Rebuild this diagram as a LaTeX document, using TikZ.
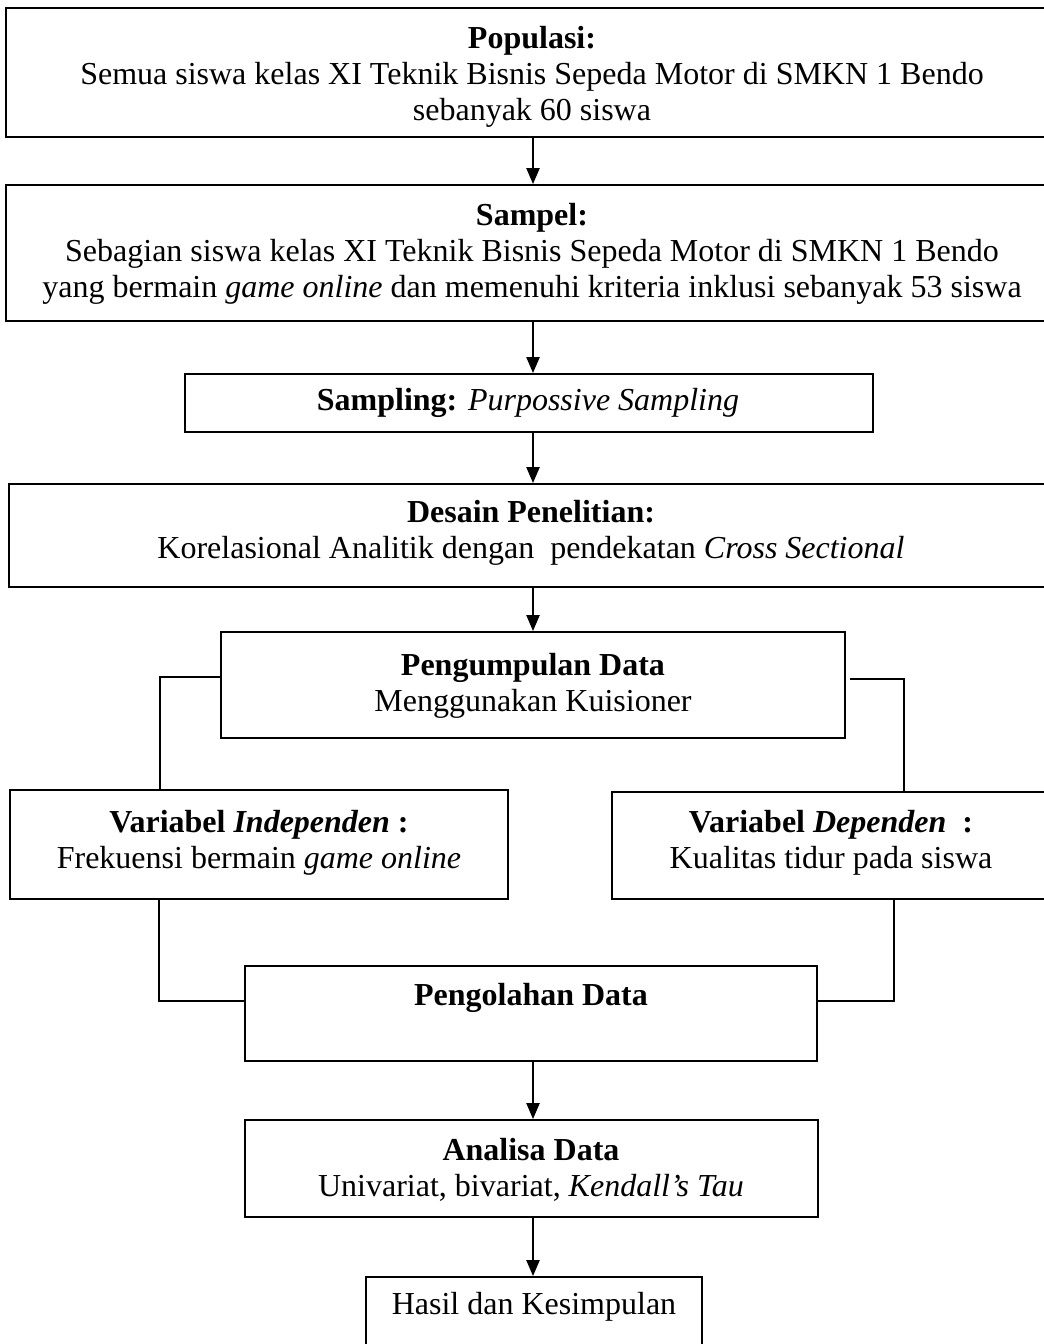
\documentclass[tikz,border=0pt]{standalone}
\usepackage{fontspec}
\setmainfont{Liberation Serif}
\usetikzlibrary{fit,arrows.meta}
\tikzset{
  box/.style={draw=black, line width=1.8pt, inner sep=0pt, fill=none},
  txt/.style={font=\fontsize{32}{36}\selectfont, align=center, inner sep=0pt},
  conn/.style={draw=black, line width=2.2pt},
  arr/.style={conn, -{Triangle[length=16pt,width=13pt]}}
}
\begin{document}
\begin{tikzpicture}[x=1pt,y=-1pt]
\useasboundingbox (0,0) rectangle (1044,1344);
\clip (0,0) rectangle (1044,1344);
\fill[white] (0,0) rectangle (1044,1344);
% boxes
\node[box, fit={(6,8) (1052,137)}] (pop) {};
\node[box, fit={(6,185) (1052,321)}] (sam) {};
\node[box, fit={(185,374) (873,432)}] (smp) {};
\node[box, fit={(9,484) (1052,587)}] (des) {};
\node[box, fit={(221,632) (845,738)}] (col) {};
\node[box, fit={(10,790) (508,899)}] (ind) {};
\node[box, fit={(612,792) (1052,899)}] (dep) {};
\node[box, fit={(245,966) (817,1061)}] (olah) {};
\node[box, fit={(245,1120) (818,1217)}] (ana) {};
\node[box, fit={(366,1277) (702,1360)}] (has) {};
% texts
\node[txt] (popt) at (532,77) {\textbf{Populasi:}\\Semua siswa kelas XI Teknik Bisnis Sepeda Motor di SMKN 1 Bendo\\sebanyak 60 siswa};
\node[txt] (samt) at (532,254) {\textbf{Sampel:}\\Sebagian siswa kelas XI Teknik Bisnis Sepeda Motor di SMKN 1 Bendo\\yang bermain \textit{game online} dan memenuhi kriteria inklusi sebanyak 53 siswa};
\node[txt] (smpt) at (528,403) {\textbf{Sampling:} \textit{Purpossive Sampling}};
\node[txt] (dest) at (531,533) {\textbf{Desain Penelitian:}\\Korelasional Analitik dengan~ pendekatan \textit{Cross Sectional}};
\node[txt] (colt) at (533,686) {\textbf{Pengumpulan Data}\\Menggunakan Kuisioner};
\node[txt] (indt) at (259,843) {\textbf{Variabel \textit{Independen} :}\\Frekuensi bermain \textit{game online}};
\node[txt] (dept) at (831,843) {\textbf{Variabel \textit{Dependen}~ :}\\Kualitas tidur pada siswa};
\node[txt] (olaht) at (531,998) {\textbf{Pengolahan Data}};
\node[txt] (anat) at (531,1170) {\textbf{Analisa Data}\\Univariat, bivariat, \textit{Kendall’s Tau}};
\node[txt] (hast) at (534,1307) {Hasil dan Kesimpulan};
% arrows
\coordinate (ax) at (533,0);
\draw[arr] (pop.south -| ax) -- (sam.north -| ax);
\draw[arr] (sam.south -| ax) -- (smp.north -| ax);
\draw[arr] (smp.south -| ax) -- (des.north -| ax);
\draw[arr] (des.south -| ax) -- (col.north -| ax);
\draw[arr] (olah.south -| ax) -- (ana.north -| ax);
\draw[arr] (ana.south -| ax) -- (has.north -| ax);
% elbow connectors
\draw[conn] ([yshift=8pt]col.west) -| ([xshift=-99pt]ind.north);
\draw[conn] ([xshift=4pt,yshift=6pt]col.east) -| ([xshift=72pt]dep.north);
\draw[conn, line width=1.6pt] ([xshift=-100pt]ind.south) |- ([yshift=12.5pt]olah.west);
\draw[conn, line width=1.6pt] ([xshift=62pt]dep.south) |- ([yshift=12.5pt]olah.east);
\end{tikzpicture}
\end{document}
